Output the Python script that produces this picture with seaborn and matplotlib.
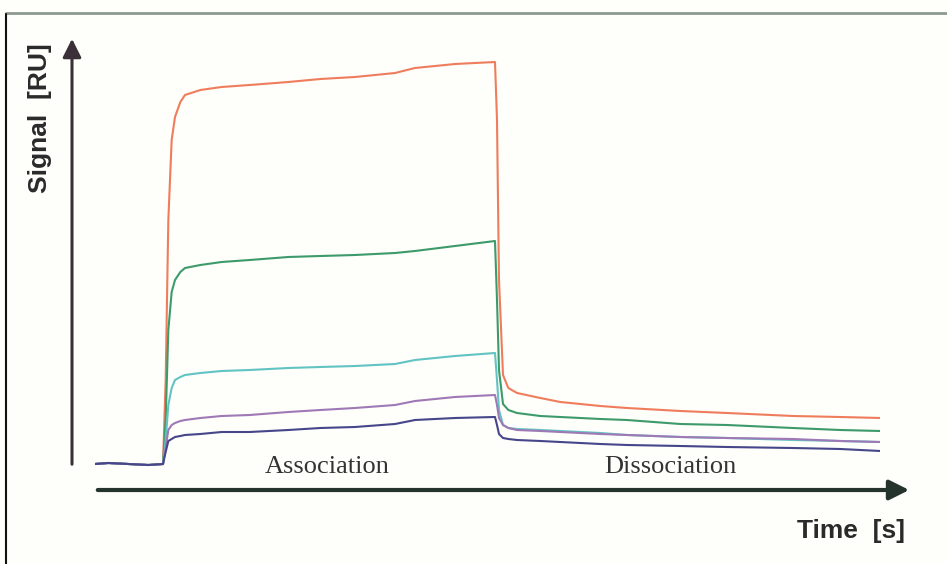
import pandas as pd
import matplotlib.pyplot as plt
import seaborn as sns

# time [s] and signal [RU]
time = [0, 20, 50, 80, 102, 106, 110, 115, 120, 128, 135, 158, 190, 232, 290, 338, 390,
        450, 480, 540, 600, 603, 606, 612, 620, 633, 668, 698, 758, 798, 878, 948, 1047,
        1118, 1178]
red = [0, 2, 0, -2, 0, 168, 488, 648, 694, 724, 738, 748, 754, 758, 764, 770, 774,
       782, 792, 800, 804, 688, 368, 178, 152, 142, 132, 124, 116, 112, 106, 102, 96, 94, 92]
green = [0, 2, 0, -2, 0, 88, 268, 344, 368, 384, 392, 398, 404, 408, 414, 416, 418,
         422, 426, 436, 446, 328, 188, 120, 108, 102, 96, 94, 90, 88, 80, 78, 72, 68, 66]
cyan = [0, 2, 0, -2, 0, 48, 118, 152, 168, 174, 178, 182, 186, 188, 192, 194, 196,
        200, 208, 216, 222, 168, 108, 78, 72, 70, 68, 66, 62, 58, 54, 52, 48, 46, 44]
purple = [0, 2, 0, -2, 0, 32, 68, 78, 82, 86, 88, 92, 96, 98, 104, 108, 112,
          118, 126, 134, 138, 118, 92, 78, 72, 68, 66, 64, 60, 58, 54, 52, 50, 46, 44]
navy = [0, 2, 0, -2, 0, 24, 46, 50, 54, 56, 58, 60, 64, 64, 68, 72, 74,
        80, 88, 92, 94, 78, 60, 52, 50, 48, 46, 44, 40, 38, 36, 34, 32, 30, 26]

df = pd.DataFrame({'time': time, 'c5': red, 'c4': green, 'c3': cyan, 'c2': purple, 'c1': navy})
df = df.melt(id_vars='time', var_name='conc', value_name='signal')
colors = {'c5': '#ef7d5c', 'c4': '#3d9a6a', 'c3': '#62c4c2', 'c2': '#9f79b6', 'c1': '#46468a'}

sns.set_style('white')
fig = plt.figure(figsize=(9.47, 5.64), dpi=100, facecolor='#fefefb')

# overlay in pixel coordinates for frame, arrows and labels
deco = fig.add_axes([0, 0, 1, 1])
deco.set_xlim(0, 947)
deco.set_ylim(564, 0)
deco.axis('off')
deco.plot([6, 947], [13, 13], color='#8d9a92', lw=2)
deco.plot([6, 6], [14, 564], color='#111111', lw=1.5)
deco.annotate('', xy=(72, 36), xytext=(72, 467),
              arrowprops=dict(arrowstyle='-|>', lw=2.2, color='#3b3038', mutation_scale=28))
deco.annotate('', xy=(912, 490), xytext=(95, 490),
              arrowprops=dict(arrowstyle='-|>', lw=3, color='#24342c', mutation_scale=30))
deco.text(40, 118, 'Signal  [RU]', rotation=90, ha='center', va='center',
          fontsize=19, fontweight='bold', family='Liberation Sans', color='#2a2a2a')
deco.text(851, 531, 'Time  [s]', ha='center', va='center',
          fontsize=19, fontweight='bold', family='Liberation Sans', color='#2a2a2a')
deco.text(327, 467, 'Association', ha='center', va='center',
          fontsize=19, family='Liberation Serif', color='#333333')
deco.text(670, 467, 'Dissociation', ha='center', va='center',
          fontsize=19, family='Liberation Serif', color='#333333')

ax = fig.add_axes([95 / 947, (564 - 470) / 564, 785 / 947, 420 / 564])
ax.patch.set_alpha(0)
sns.lineplot(data=df, x='time', y='signal', hue='conc', palette=colors,
             linewidth=1.5, legend=False, ax=ax)
ax.set_xlim(0, 1177.5)
ax.set_ylim(-12, 828)
ax.axis('off')

fig.savefig('out.png', dpi=100, facecolor=fig.get_facecolor())
